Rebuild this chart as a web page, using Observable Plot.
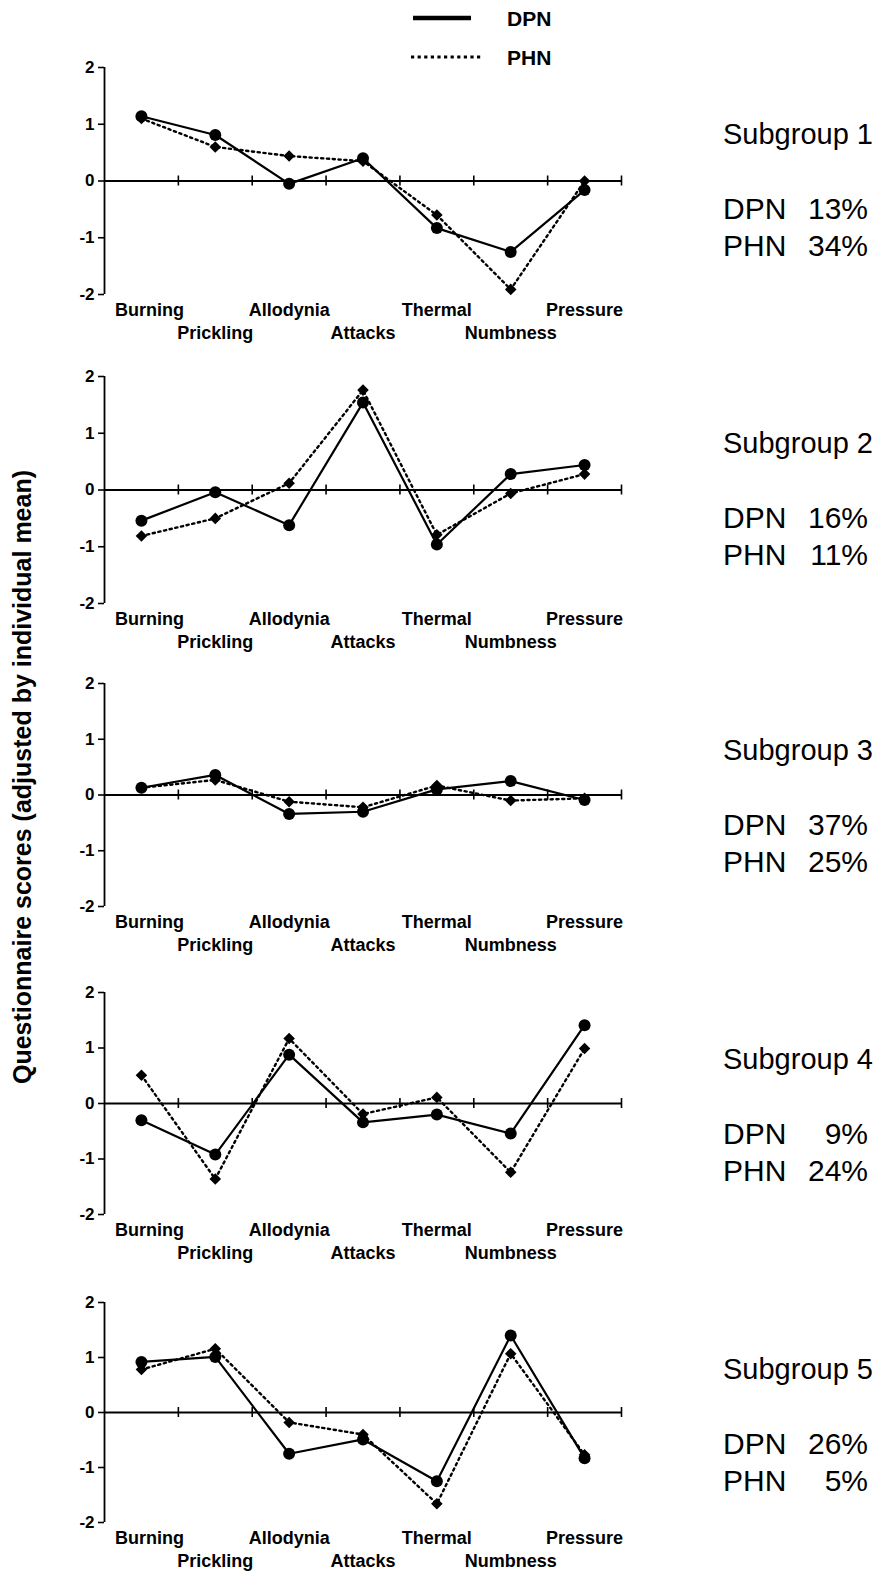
<!DOCTYPE html>
<html>
<head>
<meta charset="utf-8">
<script src="https://cdn.jsdelivr.net/npm/d3@7"></script>
<script src="https://cdn.jsdelivr.net/npm/@observablehq/plot@0.6"></script>
<style>
  html, body { margin: 0; padding: 0; background: #fff; }
  #root { position: relative; width: 895px; height: 1571px; background: #fff;
          font-family: "Liberation Sans", Arial, Helvetica, sans-serif; color: #000; overflow: hidden; }
  .panel { position: absolute; left: 0; }
  .sg { position: absolute; left: 723px; font-size: 29px; line-height: 1; white-space: nowrap; }
  .pct { position: absolute; left: 723px; font-size: 30px; line-height: 1; white-space: nowrap; }
  .pct .lab { display: inline-block; width: 83px; }
  .pct .num { display: inline-block; width: 62px; text-align: right; }
  #ytitle { position: absolute; left: 22px; top: 777px; transform: translate(-50%, -50%) rotate(-90deg);
            font-size: 25px; font-weight: bold; white-space: nowrap; }
  #legend { position: absolute; left: 0; top: 0; }
  .legtxt { position: absolute; font-size: 21px; font-weight: bold; line-height: 1; }
</style>
</head>
<body>
<div id="root"></div>
<script>
// ---- data ----
const categories = ["Burning", "Prickling", "Allodynia", "Attacks", "Thermal", "Numbness", "Pressure"];
const subgroupNames = ["Subgroup 1", "Subgroup 2", "Subgroup 3", "Subgroup 4", "Subgroup 5"];
const dpnPercent = [13, 16, 37, 9, 26];
const phnPercent = [34, 11, 25, 24, 5];
const yTicks = [-2, -1, 0, 1, 2];

const dpn1 = [1.14, 0.81, -0.05, 0.40, -0.83, -1.25, -0.16];
const phn1 = [1.10, 0.60, 0.44, 0.35, -0.60, -1.91, 0.00];
const dpn2 = [-0.54, -0.04, -0.62, 1.54, -0.96, 0.28, 0.44];
const phn2 = [-0.81, -0.50, 0.12, 1.76, -0.79, -0.06, 0.28];
const dpn3 = [0.13, 0.36, -0.34, -0.30, 0.10, 0.25, -0.09];
const phn3 = [0.13, 0.27, -0.12, -0.22, 0.17, -0.10, -0.06];
const dpn4 = [-0.30, -0.92, 0.88, -0.34, -0.20, -0.54, 1.41];
const phn4 = [0.51, -1.36, 1.17, -0.19, 0.11, -1.24, 0.99];
const dpn5 = [0.92, 1.01, -0.75, -0.49, -1.25, 1.40, -0.83];
const phn5 = [0.78, 1.16, -0.18, -0.40, -1.66, 1.07, -0.77];

const dpnSeries = [dpn1, dpn2, dpn3, dpn4, dpn5];
const phnSeries = [phn1, phn2, phn3, phn4, phn5];

// ---- layout ----
const root = document.getElementById("root");
const panelY2 = [67, 376, 683, 992, 1302];        // pixel row of y = 2 in each panel
const panelInner = [227, 227, 223, 222, 220];     // plot-area heights
const MT = 20, MB = 60;
const FONT = '"Liberation Sans", Arial, Helvetica, sans-serif';
const boundaries = d3.range(categories.length).map(i => i + 0.5);

subgroupNames.forEach((name, k) => {
  const dRows = categories.map((c, i) => ({i, c, v: dpnSeries[k][i]}));
  const pRows = categories.map((c, i) => ({i, c, v: phnSeries[k][i]}));
  const lab = {x: (d, i) => i, y: -2, text: d => d, fontSize: 18, fontWeight: "bold", fill: "black"};
  const chart = Plot.plot({
    width: 660,
    height: MT + panelInner[k] + MB,
    marginLeft: 104,
    marginRight: 39,
    marginTop: MT,
    marginBottom: MB,
    style: {fontFamily: FONT, fontSize: "17px", color: "black", background: "white", overflow: "visible"},
    x: {domain: [-0.5, categories.length - 0.5], axis: null},
    y: {domain: [-2, 2], axis: null},
    marks: [
      // y axis line, ticks and labels
      Plot.ruleX([-0.5], {stroke: "black", strokeWidth: 1.8}),
      Plot.ruleY(yTicks, {y: d => d, x1: -0.5, x2: -0.5, insetLeft: -6, stroke: "black", strokeWidth: 1.6}),
      Plot.text(yTicks, {x: -0.5, y: d => d, text: d => String(d), dx: -10, textAnchor: "end", fontSize: 17, fontWeight: "bold", fill: "black"}),
      // x axis at zero with ticks at category boundaries
      Plot.ruleY([0], {stroke: "black", strokeWidth: 1.8}),
      Plot.ruleX(boundaries, {x: d => d, y1: 0, y2: 0, insetTop: -5, insetBottom: -5, stroke: "black", strokeWidth: 1.6}),
      // category labels in two staggered rows
      Plot.text(categories, {...lab, filter: (d, i) => i === 0, dy: 16, dx: 8}),
      Plot.text(categories, {...lab, filter: (d, i) => i % 2 === 0 && i > 0, dy: 16}),
      Plot.text(categories, {...lab, filter: (d, i) => i % 2 === 1, dy: 39}),
      // series
      Plot.line(pRows, {x: "i", y: "v", stroke: "black", strokeWidth: 2.4, strokeDasharray: "2.2,3.6"}),
      Plot.dot(pRows, {x: "i", y: "v", symbol: "diamond2", r: 5.2, fill: "black", stroke: "none"}),
      Plot.line(dRows, {x: "i", y: "v", stroke: "black", strokeWidth: 2.2}),
      Plot.dot(dRows, {x: "i", y: "v", r: 6, fill: "black", stroke: "none"})
    ]
  });
  const wrap = document.createElement("div");
  wrap.className = "panel";
  wrap.style.top = (panelY2[k] - MT) + "px";
  wrap.appendChild(chart);
  root.appendChild(wrap);

  const y2 = panelY2[k];
  const sg = document.createElement("div");
  sg.className = "sg";
  sg.style.top = (y2 + 68 - 15) + "px";
  sg.textContent = name;
  root.appendChild(sg);

  const p1 = document.createElement("div");
  p1.className = "pct";
  p1.style.top = (y2 + 142 - 15) + "px";
  p1.innerHTML = `<span class="lab">DPN</span><span class="num">${dpnPercent[k]}%</span>`;
  root.appendChild(p1);

  const p2 = document.createElement("div");
  p2.className = "pct";
  p2.style.top = (y2 + 179 - 15) + "px";
  p2.innerHTML = `<span class="lab">PHN</span><span class="num">${phnPercent[k]}%</span>`;
  root.appendChild(p2);
});

// y title
const yt = document.createElement("div");
yt.id = "ytitle";
yt.textContent = "Questionnaire scores (adjusted by individual mean)";
root.appendChild(yt);

// legend
const ns = "http://www.w3.org/2000/svg";
const leg = document.createElementNS(ns, "svg");
leg.setAttribute("id", "legend");
leg.setAttribute("width", 895);
leg.setAttribute("height", 80);
const l1 = document.createElementNS(ns, "line");
l1.setAttribute("x1", 413); l1.setAttribute("x2", 471); l1.setAttribute("y1", 18); l1.setAttribute("y2", 18);
l1.setAttribute("stroke", "black"); l1.setAttribute("stroke-width", 4.5);
const l2 = document.createElementNS(ns, "line");
l2.setAttribute("x1", 411); l2.setAttribute("x2", 482); l2.setAttribute("y1", 57); l2.setAttribute("y2", 57);
l2.setAttribute("stroke", "black"); l2.setAttribute("stroke-width", 3.2); l2.setAttribute("stroke-dasharray", "3.2,3.4");
leg.appendChild(l1); leg.appendChild(l2);
root.appendChild(leg);
[["DPN", 8], ["PHN", 47]].forEach(([t, top]) => {
  const d = document.createElement("div");
  d.className = "legtxt";
  d.style.left = "507px";
  d.style.top = top + "px";
  d.textContent = t;
  root.appendChild(d);
});
</script>
</body>
</html>
